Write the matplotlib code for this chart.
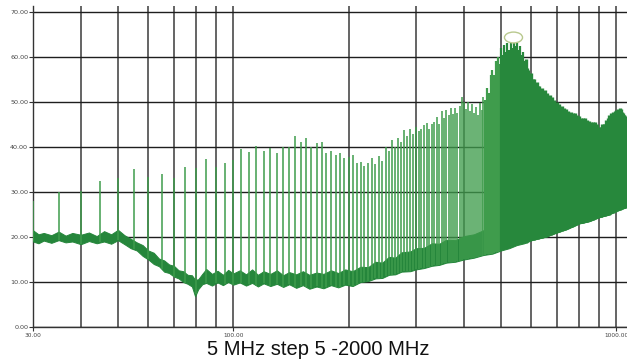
import numpy as np
import matplotlib
matplotlib.use("Agg")
import matplotlib.pyplot as plt
from matplotlib.path import Path
from matplotlib.transforms import Affine2D
from matplotlib.ticker import FixedLocator, NullFormatter

# ---------------- data ----------------
spike_start_mhz = 30
spike_step_mhz = 5
spike_levels = [
    28.0, 30.0, 30.2, 32.5, 33.0, 35.0, 33.3, 34.0, 33.0, 35.5,   # 30-75
    35.3, 37.3, 35.6, 36.4, 37.0, 39.5, 38.9, 40.2, 39.0, 39.8,   # 80-125
    38.7, 40.0, 40.0, 42.4, 41.0, 42.0, 40.0, 40.8, 41.0, 38.7,   # 130-175
    39.0, 38.2, 38.7, 37.5, 37.8, 38.3, 36.5, 36.7, 35.8, 36.4,   # 180-225
    37.5, 36.2, 38.0, 36.8, 40.0, 39.0, 41.5, 40.0, 42.0, 41.0,   # 230-275
    43.8, 42.5, 44.0, 42.8, 44.4, 43.5, 44.0, 44.8, 45.3, 43.9,   # 280-325
    45.0, 45.5, 46.7, 45.2, 48.0, 46.5, 48.2, 47.0, 48.6, 47.3,   # 330-375
    48.6, 47.5, 49.0, 51.0, 50.0, 48.5, 50.0, 48.0, 49.5, 47.5,   # 380-425
    48.8, 47.0, 49.8, 48.2, 51.0, 50.5, 53.0, 52.0, 56.0, 57.0,   # 430-475
    56.0, 59.0, 60.0, 58.5, 62.0, 60.5, 62.7, 61.0, 63.0, 61.5,   # 480-525
    63.2, 62.0, 63.0, 62.5, 63.0, 61.5, 62.5, 60.5, 61.0, 59.0,   # 530-575
    59.5, 57.5, 57.0, 56.0, 56.5, 55.0, 55.0, 54.0, 54.5, 53.5,   # 580-625
    53.5, 52.5, 53.0, 52.0, 52.7, 51.5, 52.0, 51.0, 51.5, 50.5,   # 630-675
    51.0, 50.0, 50.4, 49.5, 50.0, 49.0, 49.5, 48.5, 49.0, 48.2,   # 680-725
    48.7, 47.8, 48.5, 47.5, 48.0, 47.2, 47.8, 47.0, 47.5, 46.8,   # 730-775
    47.5, 46.5, 47.0, 46.2, 46.8, 46.0, 46.5, 45.8, 46.4, 45.5,   # 780-825
    46.4, 45.2, 46.0, 45.0, 45.8, 44.8, 45.5, 44.5, 45.5, 44.2,   # 830-875
    45.5, 44.0, 45.0, 43.8, 44.4, 43.5, 44.4, 44.0, 45.0, 44.5,   # 880-925
    45.2, 45.0, 46.0, 45.5, 46.5, 46.0, 47.0, 46.5, 47.5, 47.0,   # 930-975
    47.8, 47.5, 48.0, 47.5, 48.2, 48.0, 48.5, 48.0, 48.7, 48.2,   # 980-1025
    48.5, 47.8, 47.5, 47.0, 47.2, 46.5, 46.8, 46.7,               # 1030-1065
]
spike_freqs = [spike_start_mhz + spike_step_mhz * i for i in range(len(spike_levels))]

floor_freqs = [30, 31, 32, 33.5, 35, 36.5, 38, 40, 42, 44, 46, 48, 50, 52, 54, 56,
               58, 60, 62, 64, 66, 68, 70, 72, 74, 76, 78, 79.5, 81, 83, 85, 88,
               91, 94, 97, 100, 104, 108, 112, 116, 120, 125, 130, 135, 140, 146,
               152, 158, 165, 172, 180, 188, 196, 205, 215, 225, 235, 245, 255,
               265, 275, 290, 300, 315, 330, 345, 360, 380, 400, 425, 450, 475,
               500, 525, 550, 575, 600, 650, 700, 750, 800, 850, 900, 950, 1000, 1067]
floor_low = [19.0, 18.6, 19.2, 18.7, 19.3, 18.8, 19.0, 18.4, 19.1, 18.6, 19.0, 18.5,
             19.3, 18.4, 17.5, 17.0, 15.8, 15.0, 14.0, 13.5, 12.3, 12.0, 11.2, 10.8,
             10.0, 9.6, 9.0, 6.8, 8.4, 9.5, 9.8, 9.2, 9.9, 9.3, 10.0, 9.4, 9.9, 9.2,
             9.8, 9.0, 9.7, 9.1, 9.6, 8.9, 9.5, 8.7, 9.3, 8.5, 9.0, 8.6, 9.3, 8.8,
             9.4, 9.1, 10.0, 10.2, 10.8, 10.9, 11.6, 11.7, 12.3, 12.4, 12.8, 13.1,
             13.6, 13.8, 14.3, 14.5, 15.0, 15.4, 16.0, 16.3, 17.0, 17.5, 18.2, 18.6,
             19.3, 20.0, 21.0, 21.9, 23.0, 23.5, 24.4, 24.9, 25.8, 26.7]
floor_high = [21.5, 20.6, 20.9, 20.4, 21.2, 20.3, 20.9, 20.5, 21.0, 20.2, 21.3, 20.6,
              21.6, 20.4, 19.6, 18.8, 18.2, 17.0, 16.5, 15.2, 14.8, 13.9, 13.6, 12.6,
              12.4, 11.6, 11.5, 10.5, 10.6, 11.8, 12.9, 11.8, 12.5, 11.6, 12.7, 11.9,
              12.6, 11.7, 12.8, 11.6, 12.4, 11.8, 12.6, 11.5, 12.2, 11.7, 12.4, 11.6,
              12.1, 11.8, 12.6, 12.0, 12.8, 12.4, 13.4, 13.3, 14.5, 14.3, 15.6, 15.4,
              16.6, 16.8, 17.5, 17.6, 18.6, 18.5, 19.4, 19.3, 20.2, 20.6, 21.5, 22.0,
              23.0, 23.2, 24.0, 24.3, 25.0, 26.5, 27.5, 28.4, 29.5, 30.1, 31.0, 31.6,
              32.5, 33.0]

peak_freq = [538]
peak_level = [64.4]

y_ticks = [0, 10, 20, 30, 40, 50, 60, 70]
x_major = [30, 100, 1000]
x_minor = [40, 50, 60, 70, 80, 90, 200, 300, 400, 500, 600, 700, 800, 900]
title_text = "5 MHz step 5 -2000 MHz"

# ---------------- figure ----------------
W, H = 627, 362
fig = plt.figure(figsize=(W / 100, H / 100), dpi=100)
ax = fig.add_axes([33 / W, 1 - 327 / H, (W - 33) / W, (327 - 6) / H])

ax.set_xscale("log")
ax.set_xlim(30, 1067)
ax.set_ylim(0, 71.33)

ax.set_xticks(x_major)
ax.set_xticklabels([f"{v:.2f}" for v in x_major])
ax.xaxis.set_minor_locator(FixedLocator(x_minor))
ax.xaxis.set_minor_formatter(NullFormatter())
ax.set_yticks(y_ticks)
ax.set_yticklabels([f"{v:.2f}" for v in y_ticks])

ax.grid(True, which="major", axis="y", color="#1e1e1e", linewidth=1.0, zorder=1)
ax.grid(True, which="both", axis="x", color="#3a3a3a", linewidth=1.1, zorder=1)
ax.set_axisbelow(True)

for s in ("top", "right"):
    ax.spines[s].set_visible(False)
for s in ("left", "bottom"):
    ax.spines[s].set_color("#333333")
    ax.spines[s].set_linewidth(1.0)

ax.tick_params(axis="y", which="major", length=3, width=0.8, colors="#333333",
               labelsize=4.6, pad=0.5, labelcolor="#444444")
ax.tick_params(axis="x", which="major", length=3, width=0.8, colors="#333333",
               labelsize=4.2, pad=1.5, labelcolor="#444444")
ax.tick_params(axis="x", which="minor", length=0)

# noise floor band
ax.fill_between(floor_freqs, floor_low, floor_high, color="#25863b",
                linewidth=0.7, edgecolor="#25863b", zorder=3)

# spikes: thin where they are apart, wider where they merge into a solid block
bases = np.interp(spike_freqs, floor_freqs, floor_low)
widths = [1.1 if f < 455 else (1.6 if f < 580 else 2.4) for f in spike_freqs]
spike_cols = ["#3f9c4c" if f < 500 else "#27883c" for f in spike_freqs]
ax.vlines(spike_freqs, bases, spike_levels, colors=spike_cols, linewidths=widths,
          zorder=4)

# peak marker (open ellipse)
ell = Path.unit_circle().transformed(Affine2D().scale(1.0, 0.6))
ax.plot(peak_freq, peak_level, linestyle="none", marker=ell, markersize=13,
        markerfacecolor="none", markeredgecolor="#b9c98e", markeredgewidth=1.0,
        zorder=5)

fig.text(318 / W, 1 - 355 / H, title_text, ha="center", va="baseline",
         fontsize=14.5, family=["Liberation Sans", "DejaVu Sans"], color="#111111")

fig.savefig("out.png", dpi=100)
